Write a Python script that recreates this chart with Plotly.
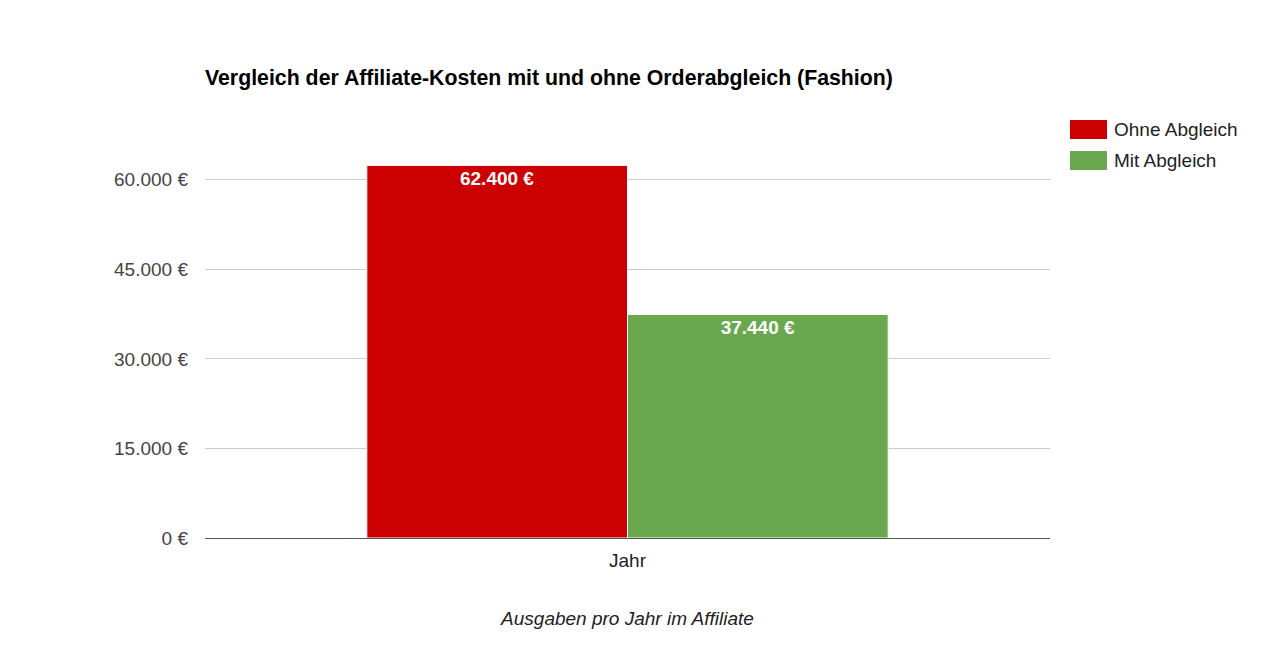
import plotly.graph_objects as go

categories = ["Jahr"]
series_names = ["Ohne Abgleich", "Mit Abgleich"]
ohne_values = [62400]
mit_values = [37440]
colors = ["#cc0000", "#6aa84f"]
tick_vals = [0, 15000, 30000, 45000, 60000]
tick_text = ["0 €", "15.000 €", "30.000 €", "45.000 €", "60.000 €"]

FONT = "Liberation Sans, Arial, sans-serif"
W, H = 1263, 664
OFF = 8  # page body offset
PL, PR, PT, PB = 205 - OFF, 1050 - OFF, 120 - OFF, 538 - OFF  # plot area in figure px


def px(x):
    return (x - OFF - PL) / (PR - PL)


def py(y):
    return (PB - (y - OFF)) / (PB - PT)


fig = go.Figure()
for name, vals, col in zip(series_names, [ohne_values, mit_values], colors):
    fig.add_trace(go.Bar(
        x=categories, y=vals, name=name,
        marker=dict(color=col, line=dict(color="white", width=1)),
        texttemplate="%{y:,.0f} €", textposition="inside",
        insidetextanchor="end",
        textfont=dict(family=FONT, size=19, color="white", weight="bold"),
        hoverinfo="skip", showlegend=False,
    ))

# custom legend (swatches + labels)
for i, (name, col) in enumerate(zip(series_names, colors)):
    y0 = 120 + i * 31
    fig.add_shape(type="rect", xref="paper", yref="paper",
                  x0=px(1070), x1=px(1107), y0=py(y0 + 19), y1=py(y0),
                  fillcolor=col, line=dict(width=0))
    fig.add_annotation(text=name, xref="paper", yref="paper",
                       x=px(1112), y=py(y0 + 9.5),
                       xanchor="left", yanchor="middle", showarrow=False,
                       font=dict(family=FONT, size=19, color="#222222"))

fig.update_layout(
    width=W, height=H,
    separators=",.",
    barmode="group", bargap=0.383, bargroupgap=0,
    plot_bgcolor="white", paper_bgcolor="white",
    margin=dict(l=PL, r=W - PR, t=PT, b=H - PB, autoexpand=False),
    font=dict(family=FONT, color="#444444"),
    showlegend=False,
    title=dict(text="<b>Vergleich der Affiliate-Kosten mit und ohne Orderabgleich (Fashion)</b>",
               x=(205 - OFF) / W, xanchor="left", y=1 - (78 - OFF) / H, yanchor="middle",
               font=dict(family=FONT, size=21.3, color="#000000")),
    xaxis=dict(showgrid=False, tickfont=dict(size=19, color="#222222"),
               ticklabelstandoff=9,
               title=dict(text="<i>Ausgaben pro Jahr im Affiliate</i>", standoff=41,
                          font=dict(size=19, color="#222222"))),
    yaxis=dict(range=[0, 70000], tickvals=tick_vals, ticktext=tick_text,
               showgrid=True, gridcolor="#cccccc", gridwidth=1,
               zeroline=True, zerolinecolor="#555555", zerolinewidth=1.3,
               tickfont=dict(size=19, color="#444444"), ticklabelstandoff=16),
)

fig.write_html("out.html")
